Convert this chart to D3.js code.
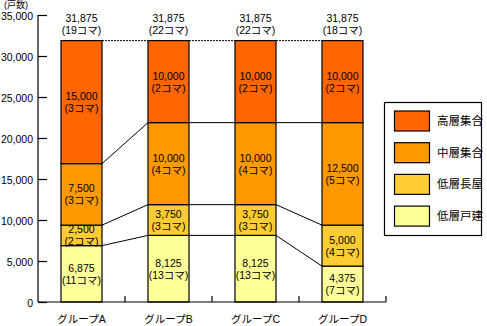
<!DOCTYPE html>
<html><head><meta charset="utf-8">
<script src="https://cdn.jsdelivr.net/npm/d3@7"></script>
<style>
body{margin:0;background:#fff;}
svg{display:block;font-family:"Liberation Sans","Noto Sans CJK JP",sans-serif;}
</style></head>
<body>
<svg id="c" width="487" height="326"></svg>
<script>
const groups = ["グループA","グループB","グループC","グループD"];
const seriesNames = ["低層戸建","低層長屋","中層集合","高層集合"];
const seriesColors = ["#FFFF99","#FFCC33","#FF9900","#FF6600"];
const vDetached = [6875, 8125, 8125, 4375];
const vRow = [2500, 3750, 3750, 5000];
const vMid = [7500, 10000, 10000, 12500];
const vHigh = [15000, 10000, 10000, 10000];
const kDetached = [11, 13, 13, 7];
const kRow = [2, 3, 3, 4];
const kMid = [3, 4, 4, 5];
const kHigh = [3, 2, 2, 2];
const totals = [31875, 31875, 31875, 31875];
const totalKoma = [19, 22, 22, 18];
const yTicks = [0,5000,10000,15000,20000,25000,30000,35000];
const yUnit = "(戸数)";

const values = [vDetached, vRow, vMid, vHigh];
const komas = [kDetached, kRow, kMid, kHigh];
const fmt = d3.format(",");

const svg = d3.select("#c");
const x = d3.scaleBand().domain(groups).range([38, 386]).padding(0);
const y = d3.scaleLinear().domain([0, 35000]).range([302, 15]);
const bw = 41;
const cx = g => x(g) + x.bandwidth()/2;

function twoLine(sel, xx, yy, l1, l2) {
  const t = sel.append("text").attr("text-anchor","middle").attr("font-size",10.5);
  t.append("tspan").attr("x", xx).attr("y", yy - 6).attr("dominant-baseline","central").text(l1);
  t.append("tspan").attr("x", xx).attr("y", yy + 6).attr("dominant-baseline","central").text(l2);
  return t;
}

// stacks
const stacked = groups.map((g, i) => {
  let acc = 0;
  return values.map((s, k) => { const y0 = acc; acc += s[i]; return {g, k, y0, y1: acc, v: s[i], koma: komas[k][i]}; });
});

// connecting lines
const lineG = svg.append("g").attr("stroke","#000").attr("stroke-width",1);
for (let i = 0; i < groups.length - 1; i++) {
  for (let k = 0; k < 3; k++) {
    lineG.append("line")
      .attr("x1", cx(groups[i]) + bw/2).attr("y1", y(stacked[i][k].y1))
      .attr("x2", cx(groups[i+1]) - bw/2).attr("y2", y(stacked[i+1][k].y1));
  }
  lineG.append("line")
    .attr("x1", cx(groups[i]) + bw/2).attr("y1", y(totals[i]))
    .attr("x2", cx(groups[i+1]) - bw/2).attr("y2", y(totals[i+1]))
    .attr("stroke-dasharray","2,1");
}

// bars
const barG = svg.append("g");
stacked.forEach(st => st.forEach(d => {
  barG.append("rect")
    .attr("x", cx(d.g) - bw/2).attr("width", bw)
    .attr("y", y(d.y1)).attr("height", y(d.y0) - y(d.y1))
    .attr("fill", seriesColors[d.k]).attr("stroke","#000").attr("stroke-width",1.2);
  const my = (y(d.y0) + y(d.y1)) / 2;
  twoLine(barG, cx(d.g), my, fmt(d.v), "(" + d.koma + "コマ)");
}));

// totals
groups.forEach((g, i) => {
  twoLine(svg, cx(g), 24, fmt(totals[i]), "(" + totalKoma[i] + "コマ)");
});

// y axis
const yAxis = svg.append("g").attr("transform","translate(38,0)")
  .call(d3.axisRight(y).tickValues(yTicks).tickSize(9).tickFormat(""));
yAxis.select(".domain").attr("d", `M0,${y(35000)}V${y(0)}`).attr("stroke","#000").attr("stroke-width",1.2);
yAxis.selectAll(".tick line").attr("stroke","#000").attr("stroke-width",1.2);
yTicks.forEach(t => {
  svg.append("text").attr("x", 33).attr("y", y(t) + 1).attr("text-anchor","end")
    .attr("dominant-baseline","central").attr("font-size",10.5).text(fmt(t));
});
svg.append("text").attr("x", 4).attr("y", 5).attr("dominant-baseline","central")
  .attr("font-size",9).text(yUnit);

// x axis
const xAxis = svg.append("g").attr("transform",`translate(0,${y(0)})`);
xAxis.append("line").attr("x1",38).attr("x2",386).attr("stroke","#000").attr("stroke-width",1.2);
groups.forEach(g => {
  const xe = x(g) + x.bandwidth();
  xAxis.append("line").attr("x1", xe).attr("x2", xe).attr("y1", 0).attr("y2", -6)
    .attr("stroke","#000").attr("stroke-width",1.2);
  svg.append("text").attr("x", cx(g)).attr("y", 319).attr("text-anchor","middle")
    .attr("dominant-baseline","central").attr("font-size",10.5).text(g);
});

// legend
const lg = svg.append("g");
lg.append("rect").attr("x",384.5).attr("y",102.5).attr("width",97).attr("height",133)
  .attr("fill","#fff").attr("stroke","#000").attr("stroke-width",1.2);
const legendOrder = [3,2,1,0];
legendOrder.forEach((k, j) => {
  const ly = 111 + j * 31.7;
  lg.append("rect").attr("x",394.5).attr("y",ly).attr("width",35).attr("height",20)
    .attr("fill",seriesColors[k]).attr("stroke","#000").attr("stroke-width",1.2);
  lg.append("text").attr("x",437).attr("y",ly + 10).attr("dominant-baseline","central")
    .attr("font-size",11.5).text(seriesNames[k]);
});
</script>
</body></html>
